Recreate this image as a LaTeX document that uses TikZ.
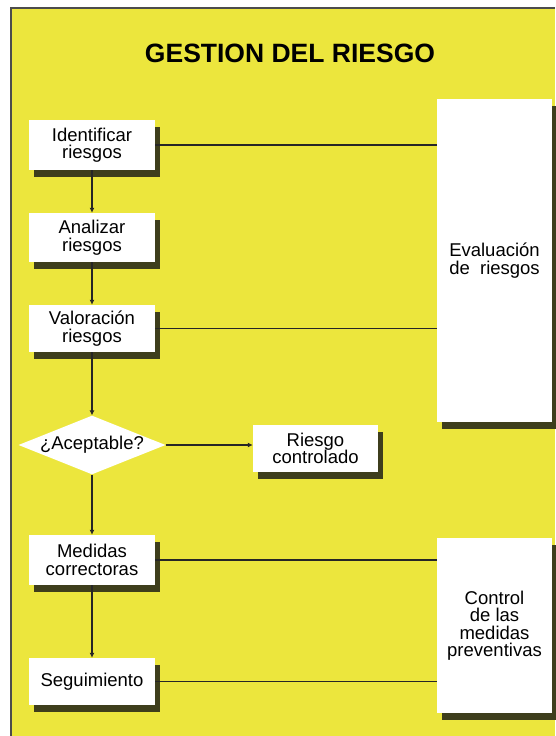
\documentclass[tikz,border=0pt]{standalone}
\usepackage{fontspec}
\setmainfont{Liberation Sans}
\usetikzlibrary{shapes.geometric}
\usetikzlibrary{shadows}
\usetikzlibrary{arrows.meta}
\definecolor{fondo}{RGB}{236,230,61}
\definecolor{sombra}{RGB}{62,62,28}

\begin{document}
\begin{tikzpicture}[x=1pt,y=-1pt,
 caja/.style={fill=white,align=center,inner sep=0pt,minimum width=126pt,
  font=\fontsize{18.5}{17.5}\selectfont,
  drop shadow={shadow xshift=5pt,shadow yshift=-7pt,fill=sombra,opacity=1}},
 rombo/.style={diamond,fill=white,aspect=2.5,inner sep=0pt,minimum width=145pt,
  minimum height=58pt,font=\fontsize{18.5}{17.5}\selectfont},
 linea/.style={line width=1.8pt,draw=black!85},
 flecha/.style={linea,-{Latex[length=5pt,width=5pt]}}]
 \useasboundingbox (0,0) rectangle (555,736);
 \fill[fondo] (11,8) rectangle (555,736);
 \draw[line width=1.2pt,black!70] (11,736)--(11,8)--(555,8);
 \node[anchor=base,font=\fontsize{26.5}{26.5}\selectfont\bfseries] (titulo) at (290,62) {GESTION DEL RIESGO};
 \node[caja,minimum height=50pt] (ident) at (92,145) {Identificar\\riesgos};
 \node[caja,minimum height=49pt] (anal) at (92,237.5) {Analizar\\riesgos};
 \node[caja,minimum height=47pt] (valor) at (92,328.5) {Valoración\\riesgos};
 \node[rombo] (acep) at (92,445) {¿Aceptable?};
 \node[caja,minimum width=125pt,minimum height=47pt] (contr) at (315.5,448.5) {Riesgo\\controlado};
 \node[caja,minimum height=50pt] (medid) at (92,560) {Medidas\\correctoras};
 \node[caja,minimum height=47pt] (segui) at (92,681.5) {Seguimiento};
 \node[caja,minimum width=115pt,minimum height=323pt] (evalu) at (494.5,260.5) {Evaluación\\de\ \ riesgos};
 \node[caja,minimum width=115pt,minimum height=175pt] (medpr) at (494.5,625.5) {Control\\de las\\medidas\\preventivas};
 \draw[flecha] (ident) -- (anal);
 \draw[flecha] (anal) -- (valor);
 \draw[flecha] (valor) -- (acep);
 \draw[flecha] (acep.east) -- (acep.east -| contr.west);
 \draw[flecha] (acep) -- (medid);
 \draw[flecha] (medid) -- (segui);
 \draw[linea] (ident.east) -- (ident.east -| evalu.west);
 \draw[linea] (valor.east) -- (valor.east -| evalu.west);
 \draw[linea] (medid.east) -- (medid.east -| medpr.west);
 \draw[linea] (segui.east) -- (segui.east -| medpr.west);
\end{tikzpicture}
\end{document}
